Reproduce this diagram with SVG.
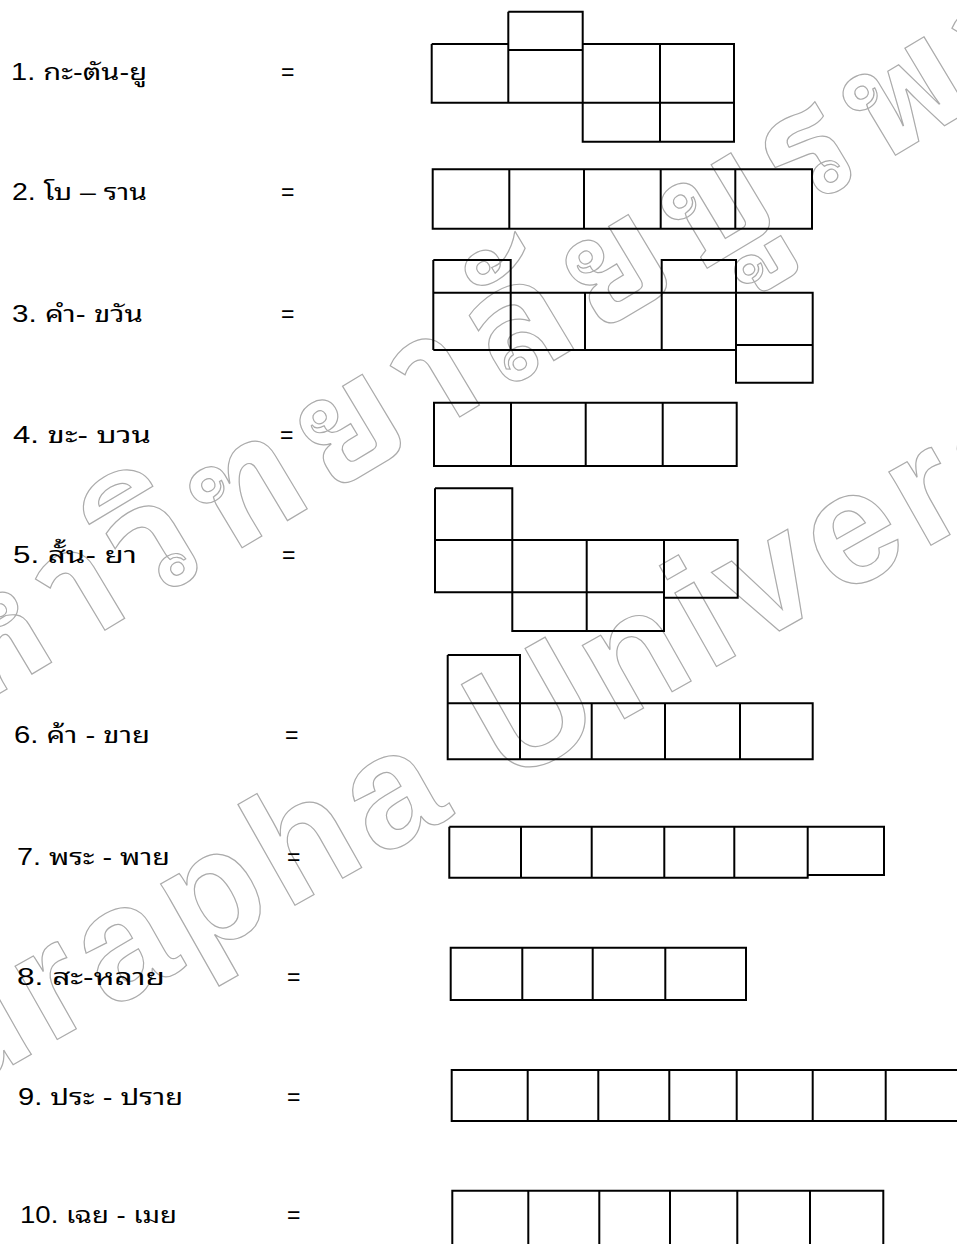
<svg xmlns="http://www.w3.org/2000/svg" width="957" height="1244" viewBox="0 0 957 1244">
<style>
.bg{fill:#ffffff}
.wm{fill:none;stroke:#ababab;stroke-width:1.2;font-family:"Liberation Sans","Noto Sans Thai Looped","Noto Serif Thai","Noto Sans Thai","Noto Sans",sans-serif;font-weight:bold}
.lbl{fill:#000;font-family:"Liberation Sans","Noto Sans Thai Looped","Noto Serif Thai","Noto Sans Thai","Noto Sans",sans-serif;font-size:23px}
.eq{fill:#000;font-family:"Liberation Sans",sans-serif;font-size:23px}
.b{fill:none;stroke:#000;stroke-width:2}
</style>
<rect class="bg" x="0" y="0" width="957" height="1244"/>
<g id="watermark">
<text class="wm" font-size="155" letter-spacing="16" text-anchor="middle" transform="translate(468,412) rotate(-31)">มหาวิทยาลัยบูรพา</text>
<text class="wm" font-size="160" letter-spacing="8" transform="translate(-152,1158) rotate(-29.5)">Burapha University</text>
</g>
<g id="row1">
<text class="lbl" x="11" y="80" textLength="136" lengthAdjust="spacingAndGlyphs">1. กะ-ตัน-ยู</text>
<text class="eq" x="281" y="80">=</text>
<path class="b" d="M508.3,11.7H582.7V102.7 M508.3,11.7V102.7 M508.3,50H582.7 M431.7,44H508.3 M431.7,44V102.7H734V44H582.7 M660,44V141.7 M582.7,102.7V141.7H734V102.7"/>
</g>
<g id="row2">
<text class="lbl" x="12" y="200" textLength="135" lengthAdjust="spacingAndGlyphs">2. โบ – ราน</text>
<text class="eq" x="281" y="200">=</text>
<path class="b" d="M432.7,169.3H812V228.7H432.7Z M509.3,169.3V228.7 M584,169.3V228.7 M660.7,169.3V228.7 M735.3,169.3V228.7"/>
</g>
<g id="row3">
<text class="lbl" x="12" y="321.7" textLength="131" lengthAdjust="spacingAndGlyphs">3. คำ- ขวัน</text>
<text class="eq" x="281" y="321.7">=</text>
<path class="b" d="M433.3,260H510.7V292.7 M433.3,260V350 M661.7,292.7V260H736V292.7 M433.3,292.7H812.7V382.7H736V292.7 M433.3,350H736 M510.7,292.7V350 M585,292.7V350 M661.7,292.7V350 M736,345H812.7"/>
</g>
<g id="row4">
<text class="lbl" x="13" y="443.3" textLength="138" lengthAdjust="spacingAndGlyphs">4.  ขะ- บวน</text>
<text class="eq" x="280" y="443.3">=</text>
<path class="b" d="M434,402.7H736.7V466H434Z M511,402.7V466 M585.7,402.7V466 M662.7,402.7V466"/>
</g>
<g id="row5">
<text class="lbl" x="13" y="563.3" textLength="124" lengthAdjust="spacingAndGlyphs">5.  สั้น- ยา</text>
<text class="eq" x="282" y="563.3">=</text>
<path class="b" d="M435,488.3H512.3V631H664V540 M435,488.3V592.3H664 M435,540H737.7V597.7H664 M586.7,540V631"/>
</g>
<g id="row6">
<text class="lbl" x="14" y="743.3" textLength="136" lengthAdjust="spacingAndGlyphs">6. ค้า - ขาย</text>
<text class="eq" x="285" y="743.3">=</text>
<path class="b" d="M447.7,655H520V759.3 M447.7,655V759.3H812.7V703.3H447.7 M591.7,703.3V759.3 M665,703.3V759.3 M740,703.3V759.3"/>
</g>
<g id="row7">
<text class="lbl" x="17" y="865" textLength="153" lengthAdjust="spacingAndGlyphs">7. พระ - พาย</text>
<text class="eq" x="287" y="865">=</text>
<path class="b" d="M449.3,826.7H884V875H807.7 M449.3,826.7V877.7H807.7V826.7 M521,826.7V877.7 M591.7,826.7V877.7 M664.3,826.7V877.7 M734.3,826.7V877.7"/>
</g>
<g id="row8">
<text class="lbl" x="17" y="985" textLength="148" lengthAdjust="spacingAndGlyphs">8.  สะ-หลาย</text>
<text class="eq" x="287" y="985">=</text>
<path class="b" d="M450.7,947.7H746V1000H450.7Z M522.3,947.7V1000 M592.7,947.7V1000 M665.3,947.7V1000"/>
</g>
<g id="row9">
<text class="lbl" x="18" y="1105" textLength="165" lengthAdjust="spacingAndGlyphs">9. ประ - ปราย</text>
<text class="eq" x="287" y="1105">=</text>
<path class="b" d="M958,1070H451.7V1121H958 M527.7,1070V1121 M598.3,1070V1121 M669.3,1070V1121 M736.7,1070V1121 M812.7,1070V1121 M885.7,1070V1121"/>
</g>
<g id="row10">
<text class="lbl" x="20" y="1223.3" textLength="157" lengthAdjust="spacingAndGlyphs">10. เฉย - เมย</text>
<text class="eq" x="287" y="1223.3">=</text>
<path class="b" d="M452.3,1246V1190.7H883.3V1246 M528.3,1190.7V1246 M599.3,1190.7V1246 M670,1190.7V1246 M737.3,1190.7V1246 M810,1190.7V1246"/>
</g>
</svg>
